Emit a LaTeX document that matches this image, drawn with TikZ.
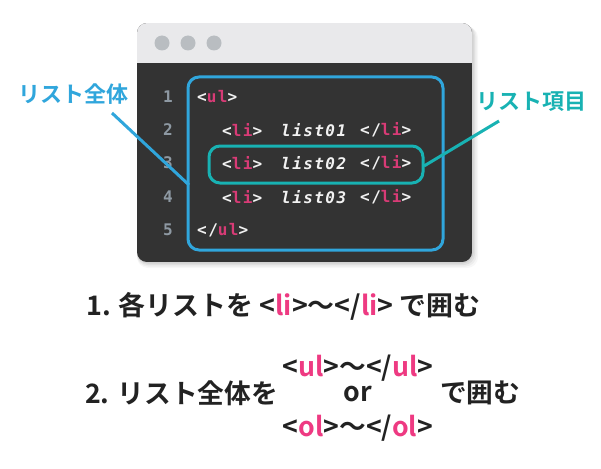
\documentclass[tikz,border=0pt]{standalone}
\usepackage{fontspec}
\setmainfont{Noto Sans CJK JP}[BoldFont={* Bold}]
\newfontfamily\codefont{DejaVu Sans Mono}[LetterSpace=9]
\definecolor{winbody}{HTML}{333333}
\definecolor{wintitle}{HTML}{E9E9EB}
\definecolor{windot}{HTML}{B9BDC1}
\definecolor{lineno}{HTML}{8E99A3}
\definecolor{codew}{HTML}{F2F2F2}
\definecolor{codepk}{HTML}{D83B76}
\definecolor{txtpk}{HTML}{EE3A82}
\definecolor{lblue}{HTML}{30A6DC}
\definecolor{lteal}{HTML}{18B2B3}
\definecolor{txtdark}{HTML}{222222}
\tikzset{
  codetok/.style={anchor=west, inner sep=0pt, text=codew, font=\codefont\bfseries\fontsize{16}{18}\selectfont},
  numtok/.style={inner sep=0pt, text=lineno, font=\codefont\bfseries\fontsize{16}{18}\selectfont},
  bluelbl/.style={inner sep=0pt, text=lblue, font=\bfseries\fontsize{22}{25}\selectfont},
  teallbl/.style={inner sep=0pt, text=lteal, font=\bfseries\fontsize{22}{25}\selectfont},
  bigtxt/.style={inner sep=0pt, text=txtdark, font=\bfseries\fontsize{26.7}{30}\selectfont},
  conn/.style={line width=3pt},
}
\newcommand{\pk}[1]{{\color{codepk}#1}}
\newcommand{\tp}[1]{{\color{txtpk}#1}}
\begin{document}
\begin{tikzpicture}[x=1pt,y=-1pt]
\useasboundingbox[fill=white] (0,0) rectangle (601,468);
% shadow
\foreach \d/\o in {6/0.03,4.5/0.04,3/0.05,1.5/0.06}{
  \fill[black, opacity=\o, rounded corners=11] (137,23+\d*0.6) rectangle (472+\d,262+\d);
}
% window
\begin{scope}
  \clip[rounded corners=10] (137,23) rectangle (472,262);
  \fill[winbody] (137,23) rectangle (472,262);
  \fill[wintitle] (137,23) rectangle (472,63);
\end{scope}
\foreach \x [count=\i] in {162,188,214}{
  \fill[windot] (\x,43) circle (7.5) node (dot\i) {};
}
% line numbers
\foreach \y [count=\i] in {97,130,163,197,230}{
  \node[numtok] (n\i) at (168,\y) {\i};
}
% code
\node[codetok] (c1) at (197,97) {<\pk{ul}>};
\node[codetok] (c2a) at (222,130) {<\pk{li}>};
\node[codetok] (c2b) at (281,130) {\itshape list01};
\node[codetok] (c2c) at (360,130) {</\pk{li}>};
\node[codetok] (c3a) at (222,163) {<\pk{li}>};
\node[codetok] (c3b) at (281,163) {\itshape list02};
\node[codetok] (c3c) at (360,163) {</\pk{li}>};
\node[codetok] (c4a) at (222,197) {<\pk{li}>};
\node[codetok] (c4b) at (281,197) {\itshape list03};
\node[codetok] (c4c) at (360,197) {</\pk{li}>};
\node[codetok] (c5) at (197,230) {</\pk{ul}>};
% boxes
\draw[lblue, conn, rounded corners=11] (188,77) rectangle (443,250);
\draw[lteal, conn, rounded corners=11] (209,146) rectangle (423,183);
\coordinate (bigbox) at (189,185);
\coordinate (itembox) at (424,166);
% labels
\node[bluelbl] (lbl1) at (73,94) {リスト全体};
\node[teallbl] (lbl2) at (531,102) {リスト項目};
\coordinate (lbl1end) at (112,113);
\coordinate (lbl2end) at (499,121);
\draw[lblue, conn] (lbl1end) -- (bigbox);
\draw[lteal, conn] (lbl2end) -- (itembox);
% captions
\node[bigtxt, anchor=west, font=\bfseries\fontsize{26.9}{30}\selectfont] (t1) at (86,306) {1. 各リストを <\tp{li}>〜</\tp{li}> で囲む};
\node[bigtxt, anchor=west] (t2) at (85,393) {2. リスト全体を};
\node[bigtxt] (t2a) at (358,368) {<\tp{ul}>〜</\tp{ul}>};
\node[bigtxt] (t2b) at (358,394) {or};
\node[bigtxt] (t2c) at (358,428) {<\tp{ol}>〜</\tp{ol}>};
\node[bigtxt, anchor=west] (t2d) at (440,393) {で囲む};
\end{tikzpicture}
\end{document}
